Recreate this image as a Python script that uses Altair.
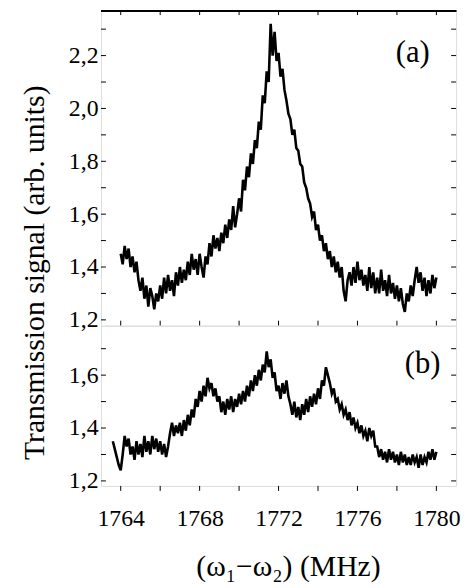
import altair as alt
import numpy as np
import pandas as pd

# ---- data ----
a_start = 1764.0
a_values = [
    1.45, 1.41, 1.48, 1.43, 1.47, 1.40, 1.44, 1.38, 1.42, 1.35,
    1.31, 1.36, 1.28, 1.33, 1.25, 1.32, 1.29, 1.24, 1.30, 1.27,
    1.33, 1.28, 1.36, 1.30, 1.37, 1.31, 1.35, 1.29, 1.38, 1.33,
    1.40, 1.34, 1.39, 1.35, 1.42, 1.37, 1.45, 1.39, 1.43, 1.37,
    1.45, 1.40, 1.36, 1.44, 1.41, 1.49, 1.44, 1.52, 1.47, 1.51,
    1.46, 1.53, 1.49, 1.56, 1.51, 1.58, 1.54, 1.63, 1.55, 1.60,
    1.66, 1.61, 1.73, 1.69, 1.78, 1.74, 1.83, 1.79, 1.88, 1.85,
    1.95, 1.92, 2.05, 2.02, 2.14, 2.10, 2.32, 2.20, 2.29, 2.18,
    2.21, 2.12, 2.15, 2.07, 2.03, 1.98, 1.96, 1.90, 1.92, 1.85,
    1.84, 1.79, 1.78, 1.72, 1.70, 1.66, 1.64, 1.59, 1.61, 1.54,
    1.56, 1.50, 1.52, 1.46, 1.49, 1.43, 1.46, 1.40, 1.44, 1.38,
    1.42, 1.36, 1.40, 1.31, 1.27, 1.35, 1.38, 1.33, 1.40, 1.34,
    1.42, 1.35, 1.39, 1.33, 1.37, 1.31, 1.40, 1.32, 1.38, 1.30,
    1.36, 1.30, 1.39, 1.31, 1.35, 1.29, 1.37, 1.30, 1.34, 1.28,
    1.33, 1.27, 1.32, 1.26, 1.23, 1.30, 1.27, 1.33, 1.29, 1.35,
    1.40, 1.34, 1.38, 1.31, 1.36, 1.29, 1.35, 1.30, 1.37, 1.32,
    1.36,
]

b_start = 1763.6
b_values = [
    1.35, 1.32, 1.29, 1.26,
    1.24, 1.30, 1.37, 1.33, 1.36, 1.30, 1.33, 1.28, 1.35, 1.30,
    1.34, 1.29, 1.37, 1.31, 1.35, 1.30, 1.37, 1.32, 1.36, 1.31,
    1.35, 1.30, 1.34, 1.29, 1.33, 1.38, 1.42, 1.37, 1.41, 1.38,
    1.42, 1.37, 1.43, 1.39, 1.45, 1.41, 1.47, 1.44, 1.51, 1.48,
    1.54, 1.50, 1.56, 1.52, 1.59, 1.55, 1.57, 1.52, 1.55, 1.50,
    1.52, 1.46, 1.50, 1.45, 1.51, 1.47, 1.52, 1.46, 1.51, 1.48,
    1.53, 1.49, 1.54, 1.50, 1.56, 1.52, 1.58, 1.54, 1.60, 1.56,
    1.62, 1.58, 1.64, 1.61, 1.69, 1.63, 1.66, 1.59, 1.61, 1.54,
    1.56, 1.51, 1.57, 1.53, 1.58, 1.52, 1.49, 1.45, 1.50, 1.44,
    1.48, 1.43, 1.49, 1.45, 1.51, 1.46, 1.52, 1.48, 1.53, 1.49,
    1.55, 1.51, 1.58, 1.56, 1.63, 1.60, 1.57, 1.53, 1.55, 1.50,
    1.51, 1.47, 1.49, 1.45, 1.47, 1.43, 1.46, 1.41, 1.44, 1.40,
    1.42, 1.38, 1.41, 1.37, 1.39, 1.35, 1.40, 1.37, 1.39, 1.33,
    1.33, 1.29, 1.32, 1.28, 1.31, 1.27, 1.32, 1.28, 1.31, 1.27,
    1.30, 1.26, 1.31, 1.27, 1.30, 1.26, 1.29, 1.26, 1.30, 1.27,
    1.29, 1.25, 1.30, 1.26, 1.29, 1.27, 1.31, 1.28, 1.32, 1.28,
    1.31,
]

x_label_ticks = [1764, 1768, 1772, 1776, 1780]
x_all_ticks = [1764, 1766, 1768, 1770, 1772, 1774, 1776, 1778, 1780]
a_label_ticks = [1.2, 1.4, 1.6, 1.8, 2.0, 2.2]
a_all_ticks = [1.2, 1.3, 1.4, 1.5, 1.6, 1.7, 1.8, 1.9, 2.0, 2.1, 2.2, 2.3]
b_label_ticks = [1.2, 1.4, 1.6]
b_all_ticks = [1.2, 1.3, 1.4, 1.5, 1.6, 1.7]
panel_labels = ["(a)", "(b)"]

x_domain = [1763.0, 1781.0]
a_domain = [1.178, 2.372]
b_domain = [1.181, 1.787]

W = 359
HA = 319
HB = 162
TICK = 5
FONT = "Liberation Serif"

df_a = pd.DataFrame({"x": np.round(a_start + 0.1 * np.arange(len(a_values)), 2), "y": a_values})
df_b = pd.DataFrame({"x": np.round(b_start + 0.1 * np.arange(len(b_values)), 2), "y": b_values})
df_xt = pd.DataFrame({"x": x_all_ticks})
df_at = pd.DataFrame({"y": a_all_ticks})
df_bt = pd.DataFrame({"y": b_all_ticks})

xs = alt.Scale(domain=x_domain, nice=False, zero=False)
label_expr = "replace(format(datum.value, '.1f'), '.', ',')"


def panel(df, dfy, ydomain, yvalues, height, label, label_x, label_y, bottom):
    ys = alt.Scale(domain=ydomain, nice=False, zero=False)
    if bottom:
        xaxis = alt.Axis(values=x_label_ticks, format="d", ticks=False, domain=False, grid=False,
                         labelFontSize=24, labelPadding=21, labelFont=FONT, labelColor="black",
                         title="(ω₁−ω₂) (MHz)", titleFontSize=30, titleFont=FONT,
                         titleFontWeight="normal", titleColor="black", titlePadding=22,
                         titleX=189)
    else:
        xaxis = None
    if not bottom:
        yaxis = alt.Axis(values=yvalues, labelExpr=label_expr, ticks=False, domain=False, grid=False,
                         labelFontSize=24, labelPadding=3, labelFont=FONT, labelColor="black",
                         title="Transmission signal (arb. units)", titleFontSize=30, titleFont=FONT,
                         titleFontWeight="normal", titleColor="black", titleY=265, titleX=-58,
                         titleBaseline="alphabetic")
    else:
        yaxis = alt.Axis(values=yvalues, labelExpr=label_expr, ticks=False, domain=False, grid=False,
                         labelFontSize=24, labelPadding=3, labelFont=FONT, labelColor="black",
                         title=None)

    line = alt.Chart(df).mark_line(color="black", strokeWidth=2.6, strokeJoin="miter").encode(
        x=alt.X("x:Q", scale=xs, axis=xaxis),
        y=alt.Y("y:Q", scale=ys, axis=yaxis),
    )
    left = alt.Chart(dfy).mark_rule(color="black", strokeWidth=1).encode(
        y=alt.Y("y:Q", scale=ys), x=alt.value(0), x2=alt.value(TICK))
    right = alt.Chart(dfy).mark_rule(color="black", strokeWidth=1).encode(
        y=alt.Y("y:Q", scale=ys), x=alt.value(W - TICK), x2=alt.value(W))
    layers = [line, left, right]
    if bottom:
        bot = alt.Chart(df_xt).mark_rule(color="black", strokeWidth=1).encode(
            x=alt.X("x:Q", scale=xs), y=alt.value(height), y2=alt.value(height + TICK))
        layers.append(bot)
    else:
        top = alt.Chart(df_xt).mark_rule(color="black", strokeWidth=1).encode(
            x=alt.X("x:Q", scale=xs), y=alt.value(0), y2=alt.value(TICK))
        bot = alt.Chart(df_xt).mark_rule(color="black", strokeWidth=1).encode(
            x=alt.X("x:Q", scale=xs), y=alt.value(height - TICK), y2=alt.value(height))
        edge = alt.Chart(df_xt).mark_rule(color="black", strokeWidth=1.6).encode(
            x=alt.value(0), x2=alt.value(W), y=alt.value(0.8))
        layers += [top, bot, edge]
    lab = alt.Chart(pd.DataFrame({"t": [label], "x": [label_x], "y": [label_y]})).mark_text(
        font=FONT, fontSize=31, color="black", align="center", baseline="middle").encode(
        x=alt.X("x:Q", scale=xs), y=alt.Y("y:Q", scale=ys), text="t:N")
    layers.append(lab)
    return alt.layer(*layers).properties(width=W, height=height)


top = panel(df_a, df_at, a_domain, a_label_ticks, HA, panel_labels[0], 1778.8, 2.21, False)
bottom = panel(df_b, df_bt, b_domain, b_label_ticks, HB, panel_labels[1], 1779.3, 1.64, True)

chart = alt.vconcat(top, bottom, spacing=0, bounds="flush").configure_view(
    stroke="black", strokeWidth=1.5
).properties(padding={"left": 11, "top": -2, "right": 5, "bottom": 0}).configure(font=FONT)

chart.save("out.html", embed_options={"renderer": "svg", "actions": False})
